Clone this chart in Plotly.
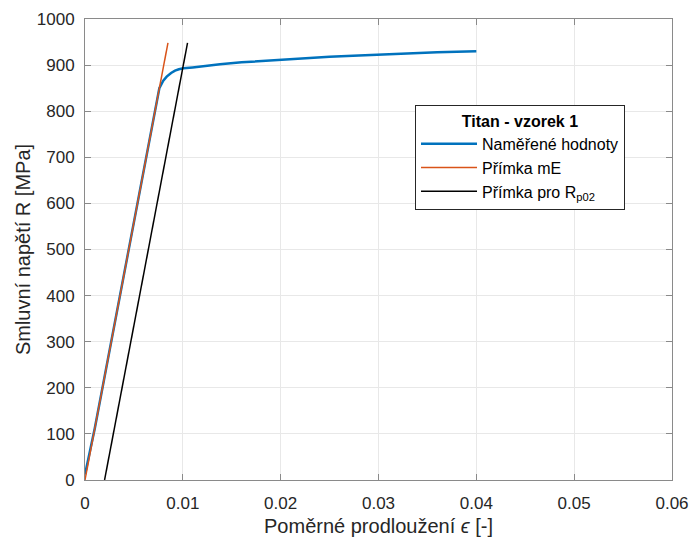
import plotly.graph_objects as go

strain_meas = [0.0, 0.0005, 0.001, 0.002, 0.003, 0.004, 0.005, 0.006, 0.007, 0.0076,
               0.008, 0.00835, 0.0088, 0.0092, 0.0096, 0.01005, 0.011, 0.012, 0.0138, 0.016,
               0.018, 0.020, 0.022, 0.025, 0.028, 0.030, 0.033, 0.036, 0.040]
stress_meas = [12, 60, 112, 224, 335, 447, 559, 671, 783, 850,
               866, 875, 883, 888, 891, 893, 895, 898, 902, 906,
               909, 911, 914, 918, 921, 923, 926, 928, 930]

# Line mE
strain_mE = [0.0, 0.00848]
stress_mE = [0, 948]

# Line for Rp02
strain_rp = [0.002, 0.01048]
stress_rp = [0, 948]

x_ticks = [0, 0.01, 0.02, 0.03, 0.04, 0.05, 0.06]
x_ticklabels = ["0", "0.01", "0.02", "0.03", "0.04", "0.05", "0.06"]
y_ticks = [0, 100, 200, 300, 400, 500, 600, 700, 800, 900, 1000]

FONT = "Liberation Sans, Arial, Helvetica, sans-serif"

fig = go.Figure()
fig.add_trace(go.Scatter(x=strain_meas, y=stress_meas, mode="lines",
                         line=dict(color="#0072BD", width=2.5),
                         name="Naměřené hodnoty"))
fig.add_trace(go.Scatter(x=strain_mE, y=stress_mE, mode="lines",
                         line=dict(color="#D95319", width=1.5),
                         name="Přímka mE"))
fig.add_trace(go.Scatter(x=strain_rp, y=stress_rp, mode="lines",
                         line=dict(color="#000000", width=1.5),
                         name="Přímka pro R<sub>p02</sub>"))

axis_common = dict(showline=True, linecolor="#8a8a8a", linewidth=1, mirror="ticks",
                   ticks="inside", ticklen=6, tickcolor="#8a8a8a",
                   showgrid=True, gridcolor="#e8e8e8", gridwidth=1, zeroline=False,
                   automargin=False,
                   tickfont=dict(family=FONT, size=17, color="#262626"))

fig.update_xaxes(range=[0, 0.06], tickvals=x_ticks, ticktext=x_ticklabels,
                 ticklabelstandoff=8,
                 title=dict(text="Poměrné prodloužení <i>ϵ</i> [-]",
                            font=dict(family=FONT, size=20, color="#262626"), standoff=13),
                 **axis_common)
fig.update_yaxes(range=[0, 1000], tickvals=y_ticks,
                 ticklabelstandoff=6,
                 title=dict(text="Smluvní napětí R [MPa]",
                            font=dict(family=FONT, size=20, color="#262626"), standoff=0),
                 **axis_common)

# legend box geometry in paper coordinates
leg_x0, leg_x1 = 0.5622, 0.9165
leg_top = 0.8134
sep_y = 0.7534

fig.update_layout(
    width=692, height=537,
    margin=dict(l=85, r=20, t=19, b=57),
    paper_bgcolor="white", plot_bgcolor="white",
    font=dict(family=FONT, color="#262626"),
    showlegend=True,
    legend=dict(x=leg_x0, y=leg_top, xanchor="left", yanchor="top",
                bgcolor="white", bordercolor="#262626", borderwidth=1,
                font=dict(family=FONT, size=16, color="#000000"),
                title=dict(text="<b>Titan - vzorek 1</b>", side="top center",
                           font=dict(family=FONT, size=16, color="#000000")),
                tracegroupgap=0, itemwidth=56),
    shapes=[dict(type="line", xref="paper", yref="paper",
                 x0=leg_x0, x1=leg_x1, y0=sep_y, y1=sep_y,
                 line=dict(color="#262626", width=1))],
)

# remove the default page margin so the figure fills the window exactly
fig.write_html("out.html",
               config={"displayModeBar": False},
               post_script="document.body.style.margin='0';document.body.style.overflow='hidden';")
